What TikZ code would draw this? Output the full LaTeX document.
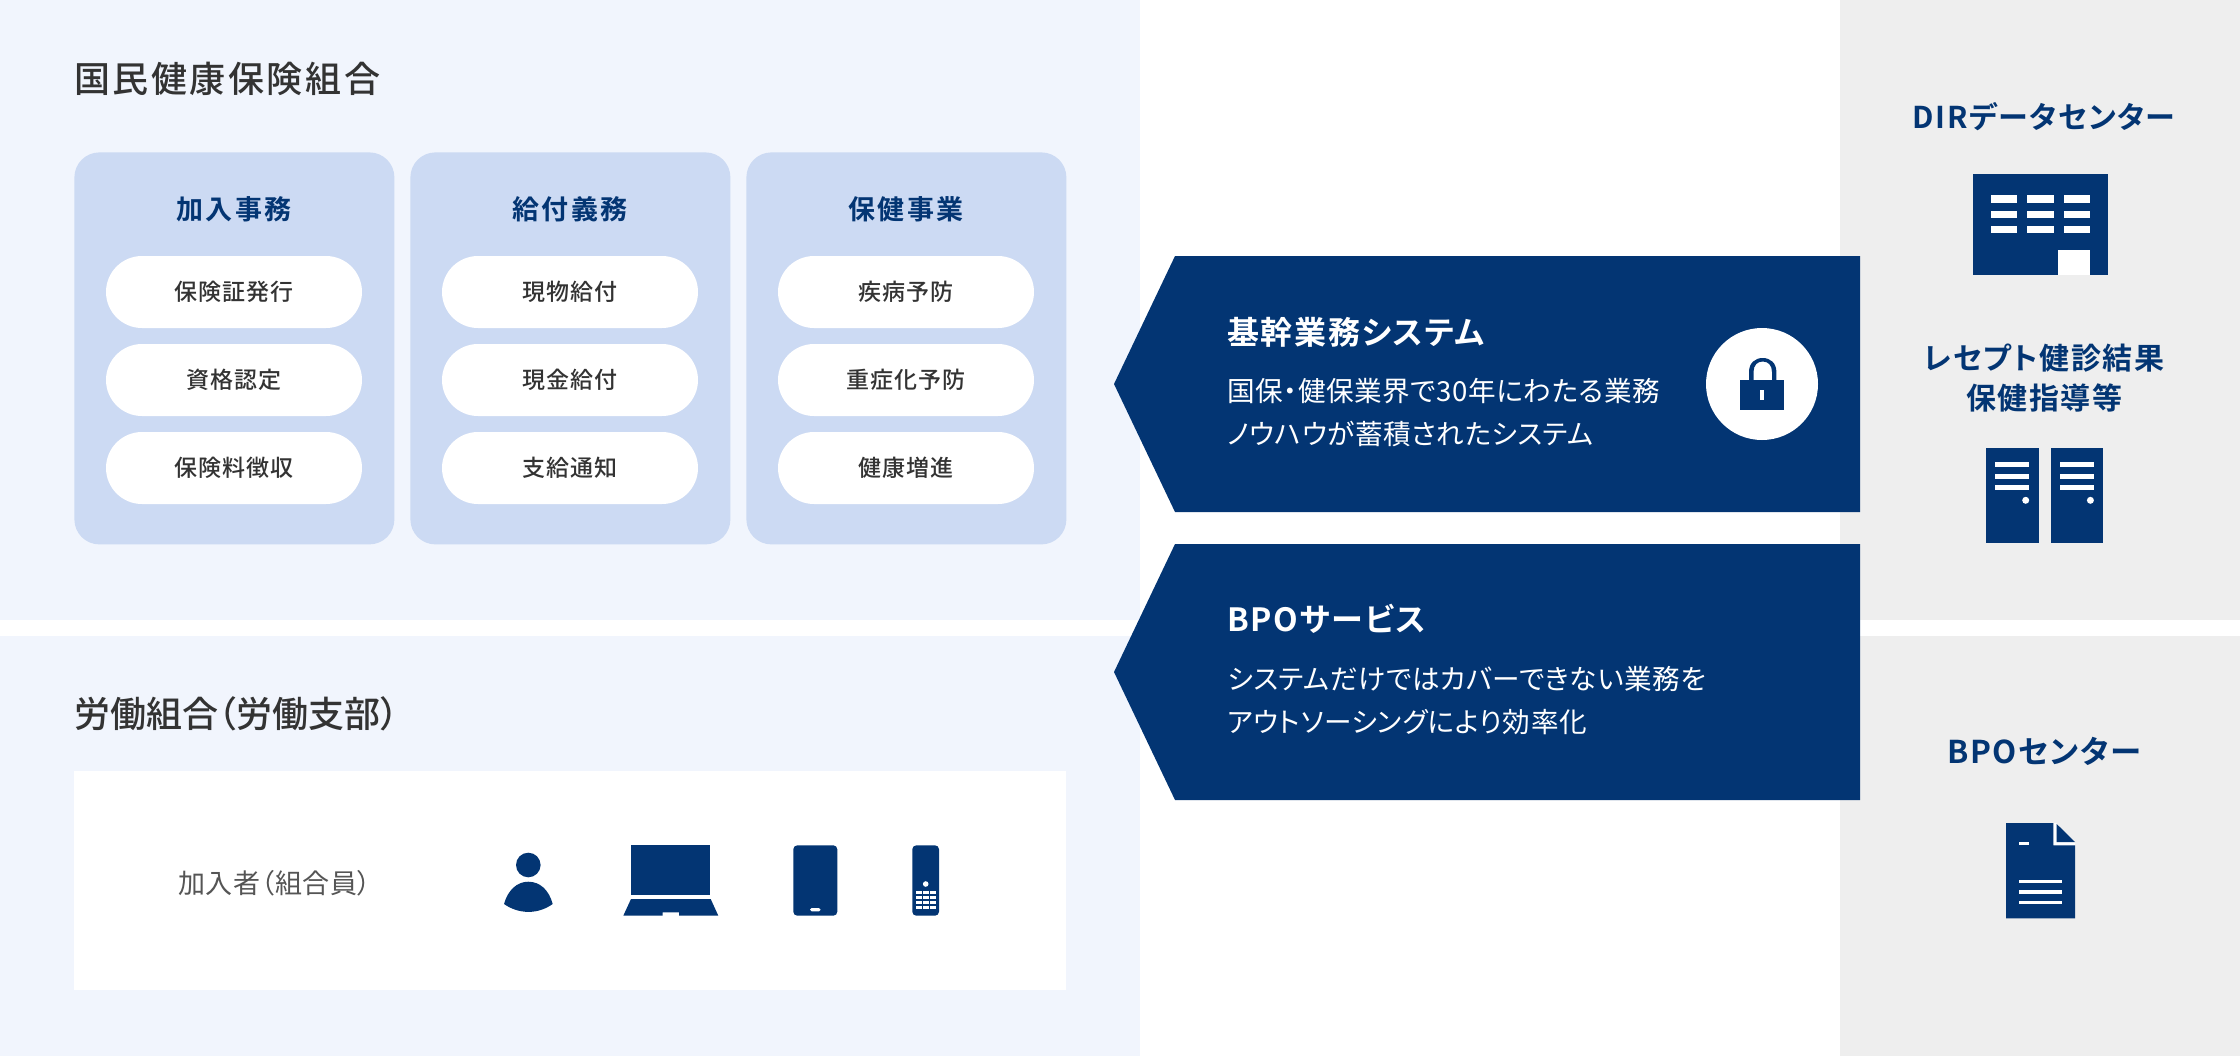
\documentclass[tikz,border=0pt]{standalone}
\usepackage{fontspec}
\setmainfont{Noto Sans CJK JP}
\newfontfamily\jpr[RawFeature=+palt,LetterSpace=2]{Noto Sans CJK JP}
\newfontfamily\jpb[RawFeature=+palt,LetterSpace=5]{Noto Sans CJK JP Bold}
\newfontfamily\jpm[RawFeature=+palt,LetterSpace=4]{Noto Sans CJK JP Medium}
\newfontfamily\jph[RawFeature=+palt,LetterSpace=7]{Noto Sans CJK JP Medium}
\newfontfamily\jpt[RawFeature=+palt]{Noto Sans CJK JP Medium}
\newfontfamily\jpc[RawFeature=+palt,LetterSpace=8.5]{Noto Sans CJK JP Bold}
\definecolor{navy}{HTML}{033573}
\definecolor{panelblue}{HTML}{F1F5FD}
\definecolor{cardblue}{HTML}{CCDAF3}
\definecolor{panelgray}{HTML}{EEEEEE}
\definecolor{ink}{HTML}{333333}
\definecolor{softink}{HTML}{555555}
\tikzset{
  x=0.5pt,y=-0.5pt,
  heading/.style={anchor=west,inner sep=0pt,text=ink,font=\jph\fontsize{18}{22}\selectfont},
  headingtight/.style={anchor=west,inner sep=0pt,text=ink,font=\jpt\fontsize{18}{22}\selectfont},
  cardbox/.style={anchor=north west,inner sep=0pt,fill=cardblue,rounded corners=12.5pt,minimum width=160pt,minimum height=196pt},
  cardtitle/.style={inner sep=0pt,text=navy,font=\jpc\fontsize{13.5}{16}\selectfont},
  pill/.style={inner sep=0pt,fill=white,rounded corners=18pt,minimum width=128pt,minimum height=36pt,text=ink,font=\jpm\fontsize{11.5}{14}\selectfont},
  bannertitle/.style={anchor=west,inner sep=0pt,text=white,font=\jpb\fontsize{16}{18}\selectfont},
  bannertext/.style={anchor=west,inner sep=0pt,text=white,font=\jpr\fontsize{13.8}{16}\selectfont},
  sidelabel/.style={inner sep=0pt,text=navy,font=\jpb\fontsize{15}{18}\selectfont},
  member/.style={anchor=west,inner sep=0pt,text=softink,font=\jpr\fontsize{13.5}{16}\selectfont},
  navyfill/.style={fill=navy},
  whitefill/.style={fill=white},
}
\begin{document}
\begin{tikzpicture}
\useasboundingbox (0,0) rectangle (2240,1056);
\fill[white] (0,0) rectangle (2240,1056);
% panels
\fill[panelblue] (0,0) rectangle (1140,620);
\fill[panelblue] (0,636) rectangle (1140,1056);
\fill[panelgray] (1840,0) rectangle (2240,620);
\fill[panelgray] (1840,636) rectangle (2240,1056);
% headings
\node[heading] (t1) at (74,79) {国民健康保険組合};
\node[headingtight] (t2) at (74,714) {労働組合（労働支部）};
% cards
\node[cardbox] (c1) at (74,152) {};
\node[cardbox] (c2) at (410,152) {};
\node[cardbox] (c3) at (746,152) {};
\node[cardtitle] (c1t) at (234,209) {加入事務};
\node[cardtitle] (c2t) at (570,209) {給付義務};
\node[cardtitle] (c3t) at (906,209) {保健事業};
\node[pill] (p11) at (234,292) {\raisebox{-0.4pt}{保険証発行}};
\node[pill] (p12) at (234,380) {\raisebox{-0.4pt}{資格認定}};
\node[pill] (p13) at (234,468) {\raisebox{-0.4pt}{保険料徴収}};
\node[pill] (p21) at (570,292) {\raisebox{-0.4pt}{現物給付}};
\node[pill] (p22) at (570,380) {\raisebox{-0.4pt}{現金給付}};
\node[pill] (p23) at (570,468) {\raisebox{-0.4pt}{支給通知}};
\node[pill] (p31) at (906,292) {\raisebox{-0.4pt}{疾病予防}};
\node[pill] (p32) at (906,380) {\raisebox{-0.4pt}{重症化予防}};
\node[pill] (p33) at (906,468) {\raisebox{-0.4pt}{健康増進}};
% member box
\fill[white] (74,771) rectangle (1066,990);
\node[member] (m) at (178,883) {加入者（組合員）};
% person
\fill[navyfill] (528.3,865) circle[radius=12.3];
\fill[navyfill] (504,904) .. controls (508,890) and (517,881.7) .. (528.3,881.7) .. controls (540,881.7) and (549,890) .. (552.7,904) .. controls (538,914.5) and (519,914.5) .. (504,904) -- cycle;
% laptop
\fill[navyfill] (631.3,845.3) rectangle (710.3,895.3);
\fill[navyfill] (631,899) -- (710.7,899) -- (718.3,915.7) -- (679,915.7) -- (679,912.3) -- (662.7,912.3) -- (662.7,915.7) -- (623.3,915.7) -- cycle;
% tablet
\fill[navyfill,rounded corners=2pt] (793.3,845.3) rectangle (837.3,915.7);
\fill[whitefill,rounded corners=0.8pt] (810,908) rectangle (820.6,911.3);
% phone
\fill[navyfill,rounded corners=2pt] (912.3,845.3) rectangle (939,915.7);
\fill[whitefill] (925.7,884) circle[radius=2.8];
\foreach \yy in {890.7,896,901,906}
  \foreach \xx in {916,923,930}
    \fill[whitefill] (\xx,\yy) rectangle ++(6.2,3.4);
% banners
\fill[navyfill] (1114,384) -- (1175,256) -- (1860,256) -- (1860,512) -- (1175,512) -- cycle;
\fill[navyfill] (1114,672) -- (1175,544) -- (1860,544) -- (1860,800) -- (1175,800) -- cycle;
\node[bannertitle] (b1t) at (1227,332) {基幹業務システム};
\node[bannertext] (b1a) at (1227,391) {国保・健保業界で30年にわたる業務};
\node[bannertext] (b1b) at (1227,434) {ノウハウが蓄積されたシステム};
\node[bannertitle] (b2t) at (1227,619) {BPOサービス};
\node[bannertext] (b2a) at (1227,679) {システムだけではカバーできない業務を};
\node[bannertext] (b2b) at (1227,722) {アウトソーシングにより効率化};
% lock
\fill[whitefill] (1762,384) circle[radius=56];
\fill[navyfill] (1749,382) -- (1749,372) .. controls (1749,363) and (1755,358) .. (1762.7,358) .. controls (1770.4,358) and (1776.4,363) .. (1776.4,372) -- (1776.4,382) -- (1772,382) -- (1772,372) .. controls (1772,365) and (1768,361.5) .. (1762.7,361.5) .. controls (1757.5,361.5) and (1753.5,365) .. (1753.5,372) -- (1753.5,382) -- cycle;
\fill[navyfill] (1740.2,380) rectangle (1784,409.7);
\fill[whitefill] (1760,390) rectangle (1764,400);
% right labels
\node[sidelabel] (r1) at (2044,117) {DIRデータセンター};
\node[sidelabel] (r2) at (2044,358) {レセプト健診結果};
\node[sidelabel] (r3) at (2044,398) {保健指導等};
\node[sidelabel,font=\jpb\fontsize{15.7}{18}\selectfont] (r4) at (2044,751) {BPOセンター};
% building
\fill[navyfill] (1973,173.7) rectangle (2108,275.3);
\foreach \yy in {195.3,210.7,226}
  \foreach \xx in {1990.7,2027.3,2064}
    \fill[whitefill] (\xx,\yy) rectangle ++(26.4,7.4);
\fill[whitefill] (2058,250) rectangle (2090.3,275.3);
% servers
\foreach \dx in {0,64.7}{
  \fill[navyfill] (1986+\dx,448.3) rectangle (2038.7+\dx,543.3);
  \foreach \yy in {462.3,473.7,485}
    \fill[whitefill] (1995.3+\dx,\yy) rectangle (2029+\dx,\yy+5);
  \fill[whitefill] (2025.7+\dx,500.3) circle[radius=3.5];
}
% document
\fill[whitefill] (2053.3,823) -- (2056.7,823) -- (2056.7,842) -- (2075,842) -- (2075,845.3) -- (2053.3,845.3) -- cycle;
\fill[navyfill] (2006,823) -- (2053.3,823) -- (2053.3,845.3) -- (2075,845.3) -- (2075,918.3) -- (2006,918.3) -- cycle;
\fill[navyfill] (2056.7,824) -- (2056.7,842) -- (2075,842) -- cycle;
\fill[whitefill] (2019,842) rectangle (2029,845.3);
\foreach \yy in {879.7,890.3,901}
  \fill[whitefill] (2019,\yy) rectangle (2062,\yy+3.4);
\end{tikzpicture}
\end{document}
